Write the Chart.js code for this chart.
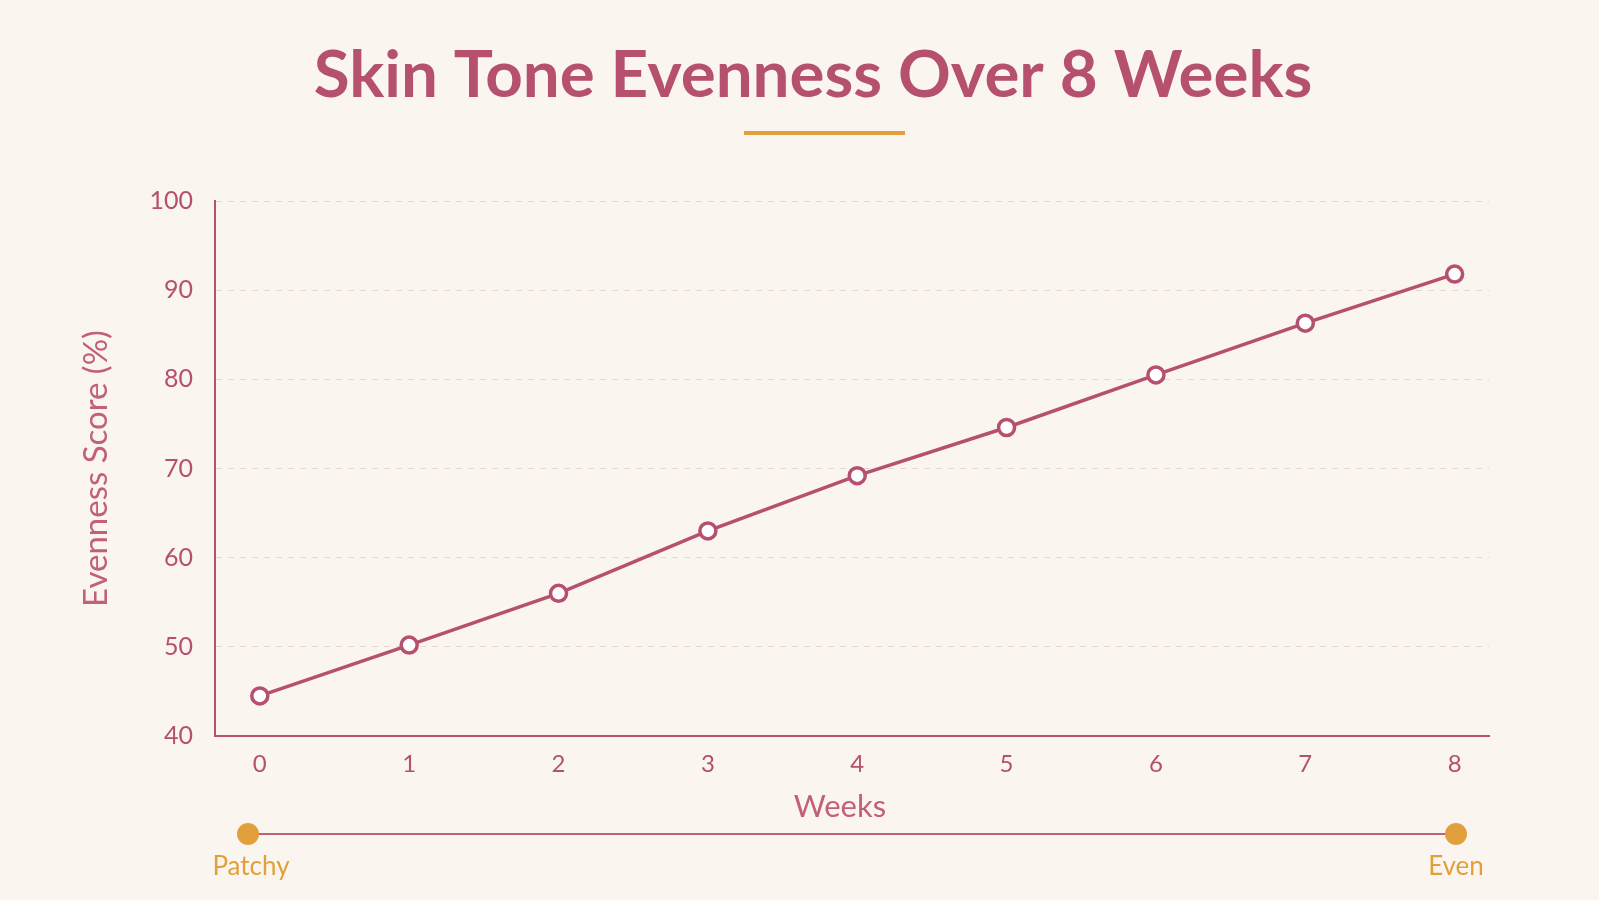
<!DOCTYPE html>
<html>
<head>
<meta charset="utf-8">
<script src="https://cdn.jsdelivr.net/npm/chart.js@4.4.1/dist/chart.umd.min.js"></script>
<style>
  html, body { margin: 0; padding: 0; background: #fbf5f0; }
  #wrap { width: 1599px; height: 900px; position: relative; }
  canvas { display: block; }
</style>
</head>
<body>
<div id="wrap"><canvas id="c" width="1599" height="900"></canvas></div>
<script>
const chartTitle = 'Skin Tone Evenness Over 8 Weeks';
const weeks = [0, 1, 2, 3, 4, 5, 6, 7, 8];
const evenness = [44.5, 50.2, 56.0, 63.0, 69.2, 74.6, 80.5, 86.3, 91.8];
const yTicks = [40, 50, 60, 70, 80, 90, 100];
const xAxisTitle = 'Weeks';
const yAxisTitle = 'Evenness Score (%)';
const scaleEnds = ['Patchy', 'Even'];

const PINK = '#b5506e';
const PINK_SOFT = '#c2607c';
const ORANGE = '#e1a03c';
const FONT = 'Lato, "Open Sans", sans-serif';

const decor = {
  id: 'decor',
  afterDraw(chart) {
    const ctx = chart.ctx;
    ctx.save();
    // title
    ctx.fillStyle = PINK;
    ctx.font = '700 65.5px ' + FONT;
    ctx.textAlign = 'center';
    ctx.textBaseline = 'middle';
    ctx.fillText(chartTitle, 813, 76);
    // underline
    ctx.fillStyle = ORANGE;
    ctx.fillRect(744, 131, 161, 4);
    // x axis title
    ctx.fillStyle = PINK_SOFT;
    ctx.font = '400 31px ' + FONT;
    ctx.fillText(xAxisTitle, 840, 807);
    // bottom scale bar
    const y = 834, x0 = 248, x1 = 1456;
    ctx.strokeStyle = PINK_SOFT;
    ctx.lineWidth = 2;
    ctx.beginPath(); ctx.moveTo(x0, y); ctx.lineTo(x1, y); ctx.stroke();
    ctx.fillStyle = ORANGE;
    [x0, x1].forEach(x => { ctx.beginPath(); ctx.arc(x, y, 11, 0, Math.PI * 2); ctx.fill(); });
    ctx.font = '400 26px ' + FONT;
    ctx.textBaseline = 'middle';
    ctx.fillText(scaleEnds[0], 251, 867);
    ctx.fillText(scaleEnds[1], 1456, 867);
    ctx.restore();
  }
};

new Chart(document.getElementById('c'), {
  type: 'line',
  data: {
    labels: weeks,
    datasets: [{
      data: weeks.map((w, i) => ({ x: w, y: evenness[i] })),
      borderColor: PINK,
      borderWidth: 3.5,
      pointRadius: 8,
      pointBorderWidth: 3.5,
      pointBackgroundColor: '#ffffff',
      pointBorderColor: PINK,
      tension: 0,
      fill: false
    }]
  },
  options: {
    responsive: false,
    animation: false,
    layout: { padding: { top: 201, right: 110, bottom: 104, left: 0 } },
    plugins: { legend: { display: false }, tooltip: { enabled: false }, title: { display: false } },
    scales: {
      x: {
        type: 'linear',
        min: -0.3,
        max: 8.23,
        afterBuildTicks: s => { s.ticks = weeks.map(v => ({ value: v })); },
        afterFit: s => { s.height = 60; },
        grid: { display: false, drawTicks: false },
        border: { display: true, color: PINK, width: 2 },
        ticks: { color: PINK, font: { family: FONT, size: 24 }, padding: 14 },
        title: { display: false }
      },
      y: {
        min: 40,
        max: 100,
        afterBuildTicks: s => { s.ticks = yTicks.map(v => ({ value: v })); },
        afterFit: s => { s.width = 215; },
        grid: { color: 'rgba(200,160,160,0.35)', drawTicks: false, lineWidth: 1 },
        border: { display: true, color: PINK, width: 2, dash: [6, 6] },
        ticks: { color: PINK, font: { family: FONT, size: 25 }, padding: 22 },
        title: { display: true, text: yAxisTitle, color: PINK_SOFT, font: { family: FONT, size: 33 }, padding: { top: 77, bottom: 0 } }
      }
    }
  },
  plugins: [decor]
});
</script>
</body>
</html>
